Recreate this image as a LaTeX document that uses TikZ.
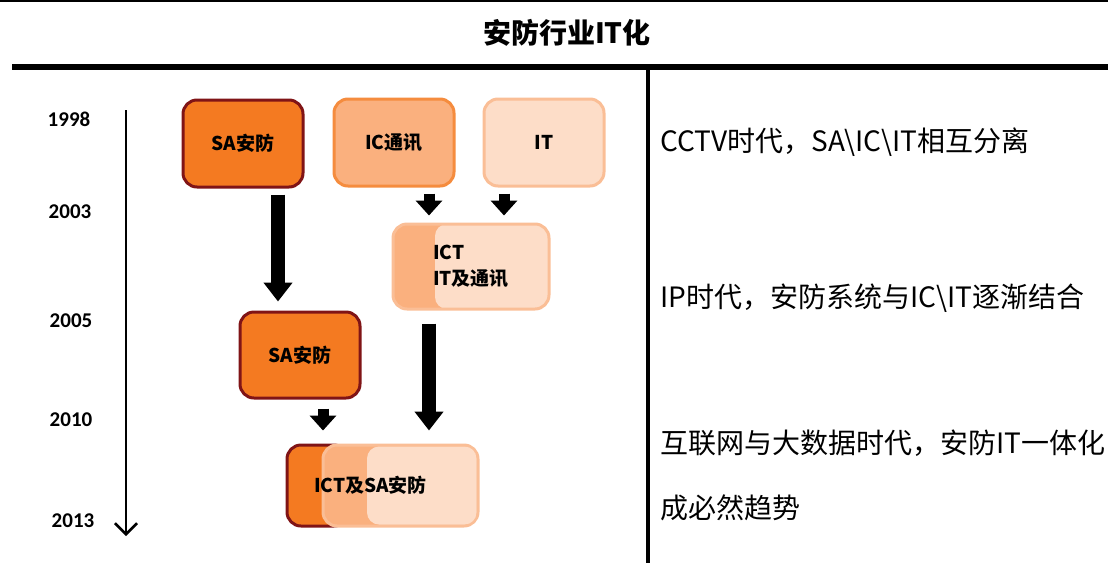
\documentclass[tikz,border=0pt]{standalone}
\usepackage{fontspec}
\setmainfont{Noto Sans CJK SC}
\newfontfamily\yearfont{Carlito}
\usetikzlibrary{arrows.meta}
\definecolor{saorange}{RGB}{244,122,33}
\definecolor{sared}{RGB}{128,20,22}
\definecolor{icorange}{RGB}{250,176,126}
\definecolor{icline}{RGB}{245,140,62}
\definecolor{itpeach}{RGB}{253,221,200}
\definecolor{itline}{RGB}{250,190,150}
\begin{document}
\begin{tikzpicture}[
    x=1pt, y=-1pt,
    stepbox/.style={rounded corners=14pt, line width=3pt, minimum width=120pt,
        minimum height=87pt, font=\fontsize{19}{22}\selectfont\bfseries},
    sabox/.style={stepbox, fill=saorange, draw=sared},
    icbox/.style={stepbox, fill=icorange, draw=icline},
    itbox/.style={stepbox, fill=itpeach, draw=itline},
    bigarrow/.style={line width=14pt, -{Triangle[width=28pt,length=19pt]}},
    smallarrow/.style={line width=11pt, -{Triangle[width=26pt,length=15pt]}},
    year/.style={font=\yearfont\fontsize{21}{24}\selectfont\bfseries},
    note/.style={anchor=west, font=\fontsize{28}{32}\selectfont}
]
    \useasboundingbox (0,0) rectangle (1108,563);
    % Frame
    \draw[line width=1.5pt] (0,1) -- (1108,1);
    \node (title) at (567,33) {\fontsize{28}{32}\selectfont\bfseries 安防行业IT化};
    \draw[line width=6pt] (12,67) -- (1108,67);
    \draw[line width=4pt] (648,64) -- (648,563);
    % Timeline
    \node[year] (y1998) at (69,119) {1998};
    \node[year] (y2003) at (70,212) {2003};
    \node[year] (y2005) at (71,321) {2005};
    \node[year] (y2010) at (71,420) {2010};
    \node[year] (y2013) at (73,521) {2013};
    \coordinate (tstart) at (126,110);
    \coordinate (tend) at (126,536);
    \draw[line width=2.5pt, -{Straight Barb[width=22pt,length=11pt]}] (tstart) -- (tend);
    % First row
    \node[sabox] (sa1) at (243,143.5) {SA安防};
    \node[icbox] (ic) at (394,142.5) {IC通讯};
    \node[itbox] (it) at (544,142.5) {IT};
    % ICT
    \node[icbox, draw=itline, minimum width=156pt, minimum height=85pt, align=left,
        path picture={\fill[itpeach, rounded corners=12pt]
            ([xshift=42pt]path picture bounding box.south west)
            rectangle (path picture bounding box.north east);}]
        (ict) at (471,266.5) {ICT\\[4pt]IT及通讯};
    % Second SA
    \node[sabox, minimum height=86pt] (sa2) at (300,355) {SA安防};
    % ICT and SA
    \draw[sabox] (287,445) rectangle (348,526);
    \draw[icbox, draw=itline] (323,445) rectangle (478,526);
    \fill[itpeach, rounded corners=12pt] (367,446.5) rectangle (476.5,524.5);
    \node[stepbox, minimum width=195pt, minimum height=85pt, rounded corners=0pt,
        label={[xshift=-12pt, font=\fontsize{19}{22}\selectfont\bfseries]center:ICT及SA安防}]
        (ictsa) at (382.5,485.5) {};
    % Arrows
    \draw[bigarrow, shorten <=6pt, shorten >=9pt] ([xshift=35pt]sa1.south) -- ([xshift=-22pt]sa2.north);
    \draw[smallarrow, shorten <=6pt, shorten >=7pt] ([xshift=35pt]ic.south) -- ([xshift=-42pt]ict.north);
    \draw[smallarrow, shorten <=6pt, shorten >=7pt] ([xshift=-40pt]it.south) -- ([xshift=33pt]ict.north);
    \draw[bigarrow, shorten <=13pt, shorten >=11pt] ([xshift=-42pt]ict.south) -- ([xshift=46.5pt]ictsa.north);
    \draw[smallarrow, shorten <=9pt, shorten >=11pt] ([xshift=23pt]sa2.south) -- ([xshift=-59.5pt]ictsa.north);
    % Notes
    \node[note] (n1) at (657,142) {CCTV时代，SA\textbackslash IC\textbackslash IT相互分离};
    \node[note] (n2) at (657,298) {IP时代，安防系统与IC\textbackslash IT逐渐结合};
    \node[note] (n3) at (657,443) {互联网与大数据时代，安防IT一体化};
    \node[note] (n4) at (657,508) {成必然趋势};
\end{tikzpicture}
\end{document}
